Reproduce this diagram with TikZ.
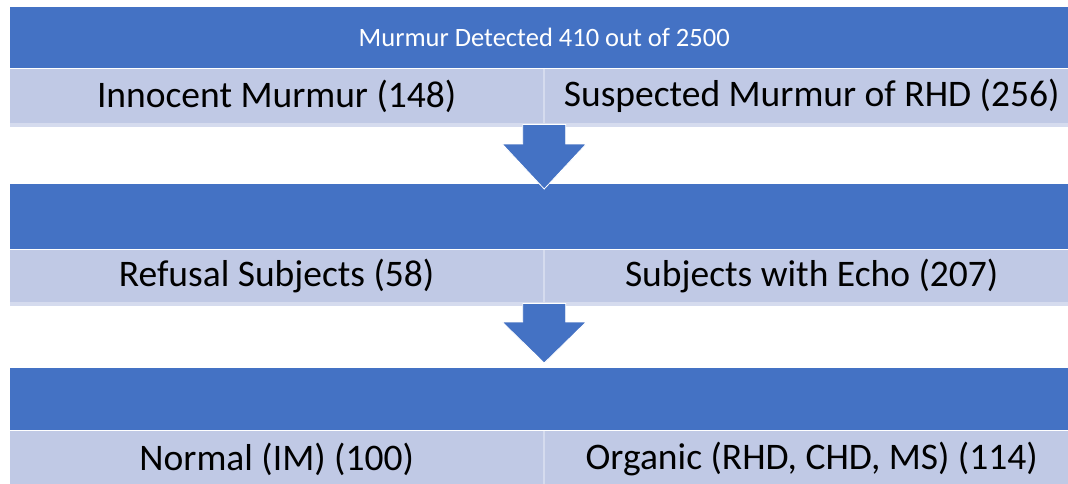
\documentclass[tikz,border=0pt]{standalone}
\usepackage{fontspec}
\setmainfont{Carlito}
\usetikzlibrary{calc}
\definecolor{barblue}{RGB}{68,114,196}
\definecolor{cellblue}{RGB}{192,201,229}
\definecolor{edgeblue}{RGB}{213,219,238}
\begin{document}
\begin{tikzpicture}[x=1pt,y=-1pt,
  bar/.style={rectangle, fill=barblue, inner sep=0pt, anchor=north west,
    minimum width=1068pt, text=white, font=\fontsize{26.5}{30}\selectfont},
  cell/.style={rectangle, fill=cellblue, inner sep=0pt, anchor=north west,
    minimum width=533pt, text=black, font=\fontsize{37.5}{40}\selectfont},
  blockarrow/.style={fill=barblue, draw=white, line width=0.8pt, line join=miter}]
\clip (0,0) rectangle (1068,483);
\fill[white] (0,0) rectangle (1068,483);
% row 1
\node[bar, minimum height=61pt] (bar1) at (10,7) {Murmur Detected 410 out of 2500};
\fill[edgeblue] (10,69) rectangle (1078,127);
\node[cell, minimum height=54pt] (l1) at (10,69) {\raisebox{-1pt}{Innocent Murmur (148)}};
\node[cell, minimum height=54pt] (r1) at (545,69) {\raisebox{-1pt}{Suspected Murmur of RHD (256)}};
% row 2
\node[bar, minimum height=65pt] (bar2) at (10,184) {};
\fill[edgeblue] (10,250) rectangle (1078,306);
\node[cell, minimum height=52pt] (l2) at (10,250) {\raisebox{-1pt}{Refusal Subjects (58)}};
\node[cell, minimum height=52pt] (r2) at (545,250) {\raisebox{-1pt}{Subjects with Echo (207)}};
% row 3
\node[bar, minimum height=62pt] (bar3) at (10,368) {};
\fill[edgeblue] (10,431) rectangle (1078,490);
\node[cell, minimum height=56pt] (l3) at (10,431) {Normal (IM) (100)};
\node[cell, minimum height=56pt] (r3) at (545,431) {Organic (RHD, CHD, MS) (114)};
% arrow 1
\coordinate (t1) at ($(bar2.north)+(0,5)$);
\coordinate (s1) at (bar2.north |- l1.south);
\draw[blockarrow] ($(s1)+(-21.5,1)$) -- ($(s1)+(21.5,1)$) -- ($(t1)+(21.5,-45)$)
  -- ($(t1)+(42,-45)$) -- (t1) -- ($(t1)+(-42,-45)$) -- ($(t1)+(-21.5,-45)$) -- cycle;
% arrow 2
\coordinate (t2) at ($(bar3.north)+(0,-5)$);
\coordinate (s2) at (bar3.north |- l2.south);
\draw[blockarrow] ($(s2)+(-21.5,1)$) -- ($(s2)+(21.5,1)$) -- ($(t2)+(21.5,-41)$)
  -- ($(t2)+(42,-41)$) -- (t2) -- ($(t2)+(-42,-41)$) -- ($(t2)+(-21.5,-41)$) -- cycle;
\end{tikzpicture}
\end{document}
